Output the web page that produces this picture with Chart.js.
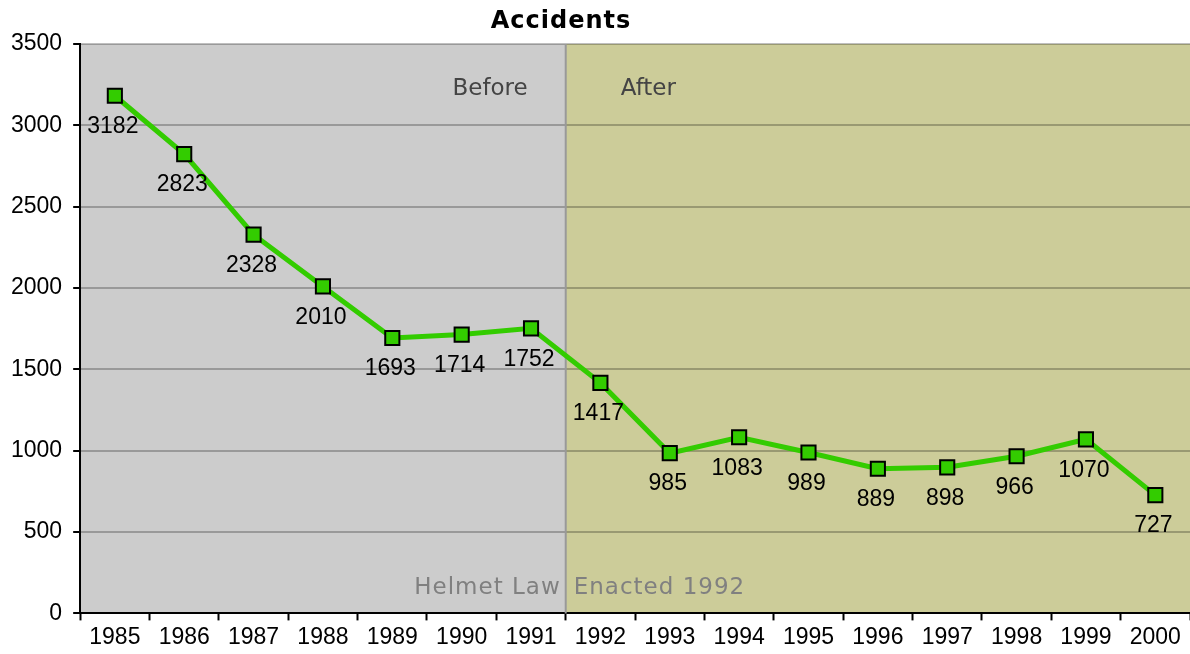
<!DOCTYPE html>
<html>
<head>
<meta charset="utf-8">
<script src="https://cdn.jsdelivr.net/npm/chart.js@4/dist/chart.umd.min.js"></script>
<style>
  html, body { margin: 0; padding: 0; background: #fff; overflow: hidden; }
  #wrap { width: 1190px; height: 654px; overflow: hidden; }
</style>
</head>
<body>
<div id="wrap"><canvas id="accidentsChart" width="1202" height="654"></canvas></div>
<script>
const years = ['1985', '1986', '1987', '1988', '1989', '1990', '1991', '1992',
  '1993', '1994', '1995', '1996', '1997', '1998', '1999', '2000'];
const accidents = [3182, 2823, 2328, 2010, 1693, 1714, 1752, 1417,
  985, 1083, 989, 889, 898, 966, 1070, 727];
const lastBeforeIndex = 6; // 1991, law enacted 1992
const chartTitle = 'Accidents';
const periodLabels = ['Before', 'After'];
const lawNote = ['Helmet Law', 'Enacted 1992'];

const numFont = '23px "Liberation Sans", Arial, sans-serif';
const noteFont = '23px "DejaVu Sans", Verdana, sans-serif';

// fondo gris / oliva y la linea divisoria
const periodos = {
  id: 'periodos',
  beforeDraw(chart) {
    const { ctx, chartArea: a, scales: { x } } = chart;
    const div = (x.getPixelForValue(lastBeforeIndex) + x.getPixelForValue(lastBeforeIndex + 1)) / 2;
    ctx.save();
    ctx.fillStyle = '#cccccc';
    ctx.fillRect(a.left, a.top, div - a.left, a.bottom - a.top);
    ctx.fillStyle = '#cccc99';
    ctx.fillRect(div, a.top, a.right - div, a.bottom - a.top);

    // titulo
    ctx.font = 'bold 24px "DejaVu Sans", Verdana, sans-serif';
    ctx.letterSpacing = '1px';
    ctx.fillStyle = '#000';
    ctx.textAlign = 'center';
    ctx.textBaseline = 'middle';
    ctx.fillText(chartTitle, 561, 22);
    ctx.restore();
  },
  beforeDatasetsDraw(chart) {
    const { ctx, chartArea: a, scales: { x } } = chart;
    const div = (x.getPixelForValue(lastBeforeIndex) + x.getPixelForValue(lastBeforeIndex + 1)) / 2;
    ctx.save();
    ctx.strokeStyle = '#999999';
    ctx.lineWidth = 2;
    ctx.beginPath();
    ctx.moveTo(div, a.top);
    ctx.lineTo(div, a.bottom);
    ctx.stroke();

    ctx.font = noteFont;
    ctx.textBaseline = 'middle';
    ctx.fillStyle = '#444444';
    ctx.textAlign = 'right';
    ctx.fillText(periodLabels[0], div - 38, a.top + 45);
    ctx.textAlign = 'left';
    ctx.fillText(periodLabels[1], div + 55, a.top + 45);

    ctx.letterSpacing = '1px';
    ctx.fillStyle = '#808080';
    ctx.textAlign = 'right';
    ctx.fillText(lawNote[0], div - 5, a.bottom - 25);
    ctx.textAlign = 'left';
    ctx.fillText(lawNote[1], div + 8, a.bottom - 25);
    ctx.restore();
  }
};

// etiquetas de valor debajo de cada punto
const etiquetas = {
  id: 'etiquetas',
  afterDatasetsDraw(chart) {
    const { ctx } = chart;
    const meta = chart.getDatasetMeta(0);
    ctx.save();
    ctx.font = numFont;
    ctx.fillStyle = '#000';
    ctx.textAlign = 'center';
    ctx.textBaseline = 'middle';
    meta.data.forEach((p, i) => {
      ctx.fillText(String(accidents[i]), p.x - 2, p.y + 31);
    });
    ctx.restore();
  }
};

new Chart(document.getElementById('accidentsChart'), {
  type: 'line',
  data: {
    labels: years,
    datasets: [{
      label: 'Accidents',
      data: accidents,
      borderColor: '#33cc00',
      borderWidth: 5,
      tension: 0,
      pointStyle: 'rect',
      pointRadius: 10,
      pointHoverRadius: 10,
      pointBackgroundColor: '#33cc00',
      pointBorderColor: '#000',
      pointBorderWidth: 2
    }]
  },
  options: {
    responsive: false,
    animation: false,
    layout: { padding: { left: 0, right: 0, top: 44, bottom: 0 } },
    plugins: {
      legend: { display: false },
      tooltip: { enabled: false },
      title: { display: false }
    },
    scales: {
      x: {
        offset: true,
        grid: {
          offset: true,
          drawOnChartArea: false,
          drawTicks: true,
          tickLength: 7,
          tickColor: '#000',
          tickWidth: 2
        },
        border: { display: true, color: '#000', width: 2 },
        ticks: { color: '#000', font: { family: '"Liberation Sans", Arial, sans-serif', size: 23 }, padding: 3, maxRotation: 0, autoSkip: false }
      },
      y: {
        min: 0,
        max: 3500,
        ticks: {
          stepSize: 500,
          color: '#000',
          font: { family: '"Liberation Sans", Arial, sans-serif', size: 23 },
          padding: 11,
          callback: v => String(v)
        },
        grid: {
          color: 'rgba(0,0,0,0.25)',
          lineWidth: 2,
          tickLength: 7,
          tickColor: '#000',
          tickWidth: 2
        },
        border: { display: true, color: '#000', width: 2 }
      }
    }
  },
  plugins: [periodos, etiquetas]
});
</script>
</body>
</html>
